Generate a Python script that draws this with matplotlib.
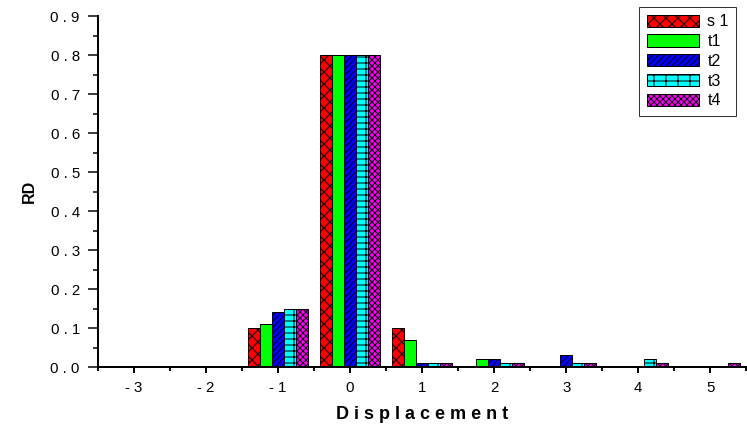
import numpy as np
import matplotlib.pyplot as plt
from matplotlib.ticker import MultipleLocator

plt.rcParams['font.family'] = ['Liberation Sans', 'DejaVu Sans']
plt.rcParams['hatch.linewidth'] = 1.0

# data
disp = np.array([-3, -2, -1, 0, 1, 2, 3, 4, 5])
s1 = [0, 0, 0.10, 0.80, 0.10, 0.00, 0.00, 0.00, 0.00]
t1 = [0, 0, 0.11, 0.80, 0.07, 0.02, 0.00, 0.00, 0.00]
t2 = [0, 0, 0.14, 0.80, 0.01, 0.02, 0.03, 0.00, 0.00]
t3 = [0, 0, 0.15, 0.80, 0.01, 0.01, 0.01, 0.02, 0.00]
t4 = [0, 0, 0.15, 0.80, 0.01, 0.01, 0.01, 0.01, 0.01]
names = ['s 1', 't1', 't2', 't3', 't4']
yticks = np.arange(0, 0.91, 0.1)

series = [s1, t1, t2, t3, t4]
colors = ['#ff0000', '#00ff00', '#0000ff', '#00ffff', '#ff00ff']
hatches = ['xx', '', '////', '-+', 'xxxx']

# spaced-out digits like the original plotting program
def spaced(s):
    return ' '.join(s)

fig = plt.figure(figsize=(747/72., 429/72.), dpi=72)
ax = fig.add_axes([0.131, 0.1445, 0.868, 0.818])

w = 1/6.
for i, (vals, c, h, n) in enumerate(zip(series, colors, hatches, names)):
    ax.bar(disp + (i-2)*w, vals, width=w, color=c, edgecolor='black',
           linewidth=1, hatch=h, label=n)

ax.set_xlim(-3.5, 5.5)
ax.set_ylim(0, 0.9)
ax.set_xticks(disp)
ax.set_xticklabels([spaced(str(d)) for d in disp])
ax.set_yticks(yticks)
ax.set_yticklabels([spaced('%.1f' % y) for y in yticks])
ax.xaxis.set_minor_locator(MultipleLocator(0.5))
ax.yaxis.set_minor_locator(MultipleLocator(0.05))

for s in ['top', 'right']:
    ax.spines[s].set_visible(False)
for s in ['left', 'bottom']:
    ax.spines[s].set_linewidth(2)

ax.tick_params(axis='x', which='major', length=6, width=2, labelsize=15, pad=8)
ax.tick_params(axis='x', which='minor', length=4, width=2)
ax.tick_params(axis='y', which='major', length=10, width=1.5, labelsize=15, pad=8)
ax.tick_params(axis='y', which='minor', length=5, width=1.5)

ax.set_xlabel('D i s p l a c e m e n t', fontsize=18, fontweight='bold', labelpad=11)
ax.set_ylabel('RD', fontsize=16, fontweight='bold', labelpad=14)

lg = ax.legend(loc='upper right', bbox_to_anchor=(736/747., 1 - 7/429.),
               bbox_transform=fig.transFigure, borderaxespad=0, fontsize=16,
               fancybox=False, edgecolor='#333333', framealpha=1,
               handlelength=3.3, handleheight=0.8, handletextpad=0.5,
               labelspacing=0.3, borderpad=0.45)
lg.get_frame().set_linewidth(1)

plt.savefig('out.png', dpi=72)
